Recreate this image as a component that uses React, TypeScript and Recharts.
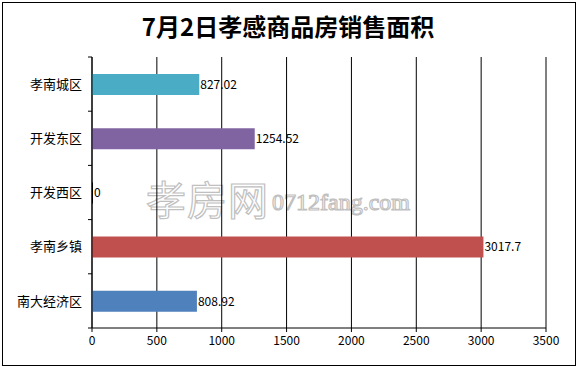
import React from "react";
import {
  BarChart,
  Bar,
  XAxis,
  YAxis,
  CartesianGrid,
  Cell,
  LabelList,
} from "recharts";

const districts = ["孝南城区", "开发东区", "开发西区", "孝南乡镇", "南大经济区"];
const areas = [827.02, 1254.52, 0, 3017.7, 808.92];
// the empty 开发西区 bar sits on the axis line, so it gets the axis colour
const barColors = ["#4BACC6", "#8064A2", "#000000", "#C0504D", "#4F81BD"];
const xTicks = [0, 500, 1000, 1500, 2000, 2500, 3000, 3500];
const bandEdges = [0, 1, 2, 3, 4, 5];

const data = districts.map((name, i) => ({ name, value: areas[i], edge: i + 0.5 }));

const font = '"Noto Sans CJK SC", sans-serif';

const NoLabel = () => <g />;

const App = () => {
  return (
    <div
      style={{
        position: "absolute",
        left: 0,
        top: 0,
        width: 576,
        height: 366,
        background: "#fff",
        fontFamily: font,
      }}
    >
      {/* outer frame */}
      <div
        style={{
          position: "absolute",
          left: 2,
          top: 2,
          width: 574,
          height: 364,
          border: "1px solid #000",
          boxSizing: "border-box",
        }}
      />
      {/* title */}
      <div
        style={{
          position: "absolute",
          left: 0,
          top: 10,
          width: 576,
          textAlign: "center",
          fontSize: 24,
          fontWeight: "bold",
          lineHeight: "32px",
          color: "#000",
        }}
      >
        7月2日孝感商品房销售面积
      </div>
      {/* watermark, behind the chart */}
      <svg
        width={576}
        height={366}
        style={{ position: "absolute", left: 0, top: 0 }}
      >
        <text
          x={146}
          y={215}
          fontSize={40}
          fontFamily={font}
          fill="#fff"
          stroke="#c0c0c0"
          strokeWidth={1.2}
          letterSpacing={1}
        >
          孝房网
        </text>
        <text
          x={272}
          y={210}
          fontSize={24}
          fontFamily='"Liberation Serif", serif'
          fill="#fff"
          stroke="#c0c0c0"
          strokeWidth={1.2}
        >
          0712fang.com
        </text>
      </svg>
      <div style={{ position: "absolute", left: 0, top: 0 }}>
        <BarChart
          width={576}
          height={366}
          data={data}
          layout="vertical"
          margin={{ top: 57, right: 30, bottom: 8, left: 0 }}
        >
          <CartesianGrid horizontal={false} stroke="#000" strokeWidth={1} />
          <XAxis
            type="number"
            domain={[0, 3500]}
            ticks={xTicks}
            interval={0}
            height={30}
            axisLine={{ stroke: "#000" }}
            tickLine={{ stroke: "#000" }}
            tickSize={4}
            tickMargin={4}
            tick={{ fill: "#000", fontSize: 12, fontFamily: font }}
          />
          {/* unlabeled axis: draws the axis line and the ticks between the bands */}
          <YAxis
            yAxisId="bands"
            type="number"
            dataKey="edge"
            domain={[0, 5]}
            ticks={bandEdges}
            interval={0}
            allowDataOverflow
            width={1}
            tick={NoLabel}
            axisLine={{ stroke: "#000" }}
            tickLine={{ stroke: "#000" }}
            tickSize={4}
          />
          <YAxis
            yAxisId="names"
            type="category"
            dataKey="name"
            width={91}
            axisLine={false}
            tickLine={false}
            tickSize={4}
            tickMargin={5}
            tick={{ fill: "#000", fontSize: 13, fontFamily: font }}
          />
          <Bar
            yAxisId="names"
            dataKey="value"
            barSize={21}
            minPointSize={1}
            isAnimationActive={false}
          >
            {data.map((d, i) => (
              <Cell key={d.name} fill={barColors[i]} />
            ))}
            <LabelList
              dataKey="value"
              position="right"
              offset={1}
              fill="#000"
              fontSize={12}
              fontFamily={font}
            />
          </Bar>
        </BarChart>
      </div>
    </div>
  );
};

export default App;
